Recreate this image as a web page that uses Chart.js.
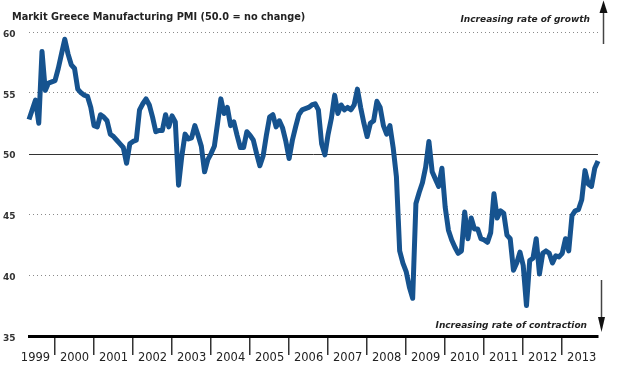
<!DOCTYPE html>
<html>
<head>
<meta charset="utf-8">
<script src="https://cdn.jsdelivr.net/npm/chart.js@4"></script>
<style>
  html, body { margin: 0; padding: 0; background: #fff; }
</style>
</head>
<body>
<canvas id="pmiChart" width="622" height="370"></canvas>
<script>
// months are counted from Jan 1999, the series starts in May 1999
const startMonth = 4;
const years = ['1999', '2000', '2001', '2002', '2003', '2004', '2005', '2006',
    '2007', '2008', '2009', '2010', '2011', '2012', '2013'];
const yTicks = [35, 40, 45, 50, 55, 60];

const pmi1999 = [52.8, 53.6, 54.4, 52.5, 58.4, 55.2, 55.8, 55.9];
const pmi2000 = [56.0, 57.0, 58.2, 59.4, 58.2, 57.3, 57.0, 55.3, 55.0, 54.8, 54.7, 53.8];
const pmi2001 = [52.3, 52.2, 53.2, 53.0, 52.7, 51.6, 51.4, 51.1, 50.8, 50.5, 49.2, 50.8];
const pmi2002 = [51.0, 51.1, 53.6, 54.1, 54.5, 54.0, 53.0, 51.8, 51.9, 51.9, 53.2, 52.2];
const pmi2003 = [53.1, 52.6, 47.4, 49.8, 51.6, 51.2, 51.3, 52.3, 51.5, 50.6, 48.5, 49.5];
const pmi2004 = [50.0, 50.6, 52.5, 54.5, 53.3, 53.8, 52.3, 52.6, 51.5, 50.5, 50.5, 51.8];
const pmi2005 = [51.5, 51.1, 50.0, 49.0, 49.8, 51.5, 53.0, 53.2, 52.2, 52.7, 52.1, 51.0];
const pmi2006 = [49.6, 51.1, 52.2, 53.2, 53.6, 53.7, 53.8, 54.0, 54.1, 53.6, 50.8, 49.9];
const pmi2007 = [51.6, 52.9, 54.8, 53.3, 54.0, 53.6, 53.8, 53.6, 54.0, 55.3, 53.8, 52.5];
const pmi2008 = [51.4, 52.5, 52.7, 54.3, 53.8, 52.3, 51.6, 52.3, 50.5, 48.1, 42.0, 41.0];
const pmi2009 = [40.3, 39.0, 38.1, 45.9, 46.8, 47.6, 48.9, 51.0, 48.5, 47.9, 47.3, 48.8];
const pmi2010 = [45.6, 43.7, 42.9, 42.3, 41.8, 42.0, 45.2, 43.0, 44.7, 43.8, 43.8, 43.0];
const pmi2011 = [42.9, 42.7, 43.5, 46.7, 44.7, 45.3, 45.1, 43.3, 43.0, 40.4, 41.0, 41.9];
const pmi2012 = [40.8, 37.5, 41.2, 41.4, 43.0, 40.1, 41.8, 42.0, 41.8, 41.0, 41.6, 41.5];
const pmi2013 = [41.8, 43.0, 42.0, 44.9, 45.3, 45.4, 46.2, 48.6, 47.5, 47.3, 48.8, 49.4];

const pmi = [].concat(pmi1999, pmi2000, pmi2001, pmi2002, pmi2003, pmi2004, pmi2005,
    pmi2006, pmi2007, pmi2008, pmi2009, pmi2010, pmi2011, pmi2012, pmi2013);
const points = pmi.map((value, i) => ({ x: startMonth + i, y: value }));
const lastMonth = startMonth + pmi.length - 1;

const gridValues = [40, 45, 55, 60];

// title, the 50 line, the side notes and arrows
const notes = {
    id: 'notes',
    beforeDatasetsDraw(chart) {
        const { ctx, chartArea, scales } = chart;
        const y50 = Math.round(scales.y.getPixelForValue(50)) + 0.5;
        ctx.save();
        ctx.strokeStyle = '#333';
        ctx.lineWidth = 1;
        ctx.beginPath();
        ctx.moveTo(chartArea.left, y50);
        ctx.lineTo(chartArea.right, y50);
        ctx.stroke();
        ctx.restore();
    },
    afterDraw(chart) {
        const ctx = chart.ctx;
        ctx.save();
        ctx.fillStyle = '#222';
        ctx.textBaseline = 'alphabetic';

        ctx.font = 'bold 9.75px "DejaVu Sans"';
        ctx.textAlign = 'left';
        ctx.fillText('Markit Greece Manufacturing PMI (50.0 = no change)', 12, 19.5);

        ctx.font = 'italic bold 9px "DejaVu Sans"';
        ctx.textAlign = 'right';
        ctx.fillText('Increasing rate of growth', 590, 22);
        ctx.fillText('Increasing rate of contraction', 587, 327.5);

        ctx.strokeStyle = '#444';
        ctx.fillStyle = '#111';
        ctx.lineWidth = 1.5;
        // up arrow
        ctx.beginPath();
        ctx.moveTo(603.5, 44);
        ctx.lineTo(603.5, 10);
        ctx.stroke();
        ctx.beginPath();
        ctx.moveTo(603.5, 0.5);
        ctx.lineTo(599.5, 13);
        ctx.lineTo(607.5, 13);
        ctx.closePath();
        ctx.fill();
        // down arrow
        ctx.beginPath();
        ctx.moveTo(601.5, 280);
        ctx.lineTo(601.5, 320);
        ctx.stroke();
        ctx.beginPath();
        ctx.moveTo(601.5, 332);
        ctx.lineTo(598, 317);
        ctx.lineTo(605, 317);
        ctx.closePath();
        ctx.fill();
        ctx.restore();
    }
};

const ctx = document.getElementById('pmiChart').getContext('2d');
const chart = new Chart(ctx, {
    type: 'line',
    data: {
        datasets: [{
            data: points,
            borderColor: '#16538f',
            borderWidth: 5,
            borderJoinStyle: 'round',
            pointRadius: 0,
            tension: 0,
            clip: false
        }]
    },
    options: {
        responsive: false,
        animation: false,
        devicePixelRatio: 1,
        layout: { padding: { left: 3, right: 24, top: 32, bottom: 0 } },
        plugins: {
            legend: { display: false },
            tooltip: { enabled: false }
        },
        scales: {
            x: {
                type: 'linear',
                min: startMonth,
                max: lastMonth,
                afterBuildTicks: scale => {
                    const ticks = [];
                    years.forEach((year, k) => {
                        if (k > 0) ticks.push({ value: 12 * k });
                        ticks.push({ value: 12 * k + 6 });
                    });
                    scale.ticks = ticks;
                },
                afterFit: scale => { scale.height = 34; },
                grid: {
                    drawOnChartArea: false,
                    tickLength: 19,
                    lineWidth: 1.5,
                    color: c => (c.tick && c.tick.value % 12 === 0) ? '#333' : 'rgba(0,0,0,0)'
                },
                border: { display: true, color: '#000', width: 3 },
                ticks: {
                    autoSkip: false,
                    maxRotation: 0,
                    padding: -4,
                    color: '#222',
                    font: { family: 'DejaVu Sans', size: 11.5 },
                    callback: v => (v % 12 === 6) ? years[(v - 6) / 12] : ''
                }
            },
            y: {
                min: yTicks[0],
                max: yTicks[yTicks.length - 1],
                afterBuildTicks: scale => {
                    scale.ticks = yTicks.map(v => ({ value: v }));
                },
                afterFit: scale => { scale.width = 26; },
                grid: {
                    drawTicks: false,
                    lineWidth: 1,
                    color: c => (c.tick && gridValues.includes(c.tick.value)) ? '#8a8a8a' : 'rgba(0,0,0,0)'
                },
                border: { display: false, dash: [1, 3] },
                ticks: {
                    crossAlign: 'far',
                    padding: 0,
                    labelOffset: 2.5,
                    color: '#333',
                    font: { family: 'DejaVu Sans', size: 9, weight: 'bold' }
                }
            }
        }
    },
    plugins: [notes]
});
</script>
</body>
</html>
